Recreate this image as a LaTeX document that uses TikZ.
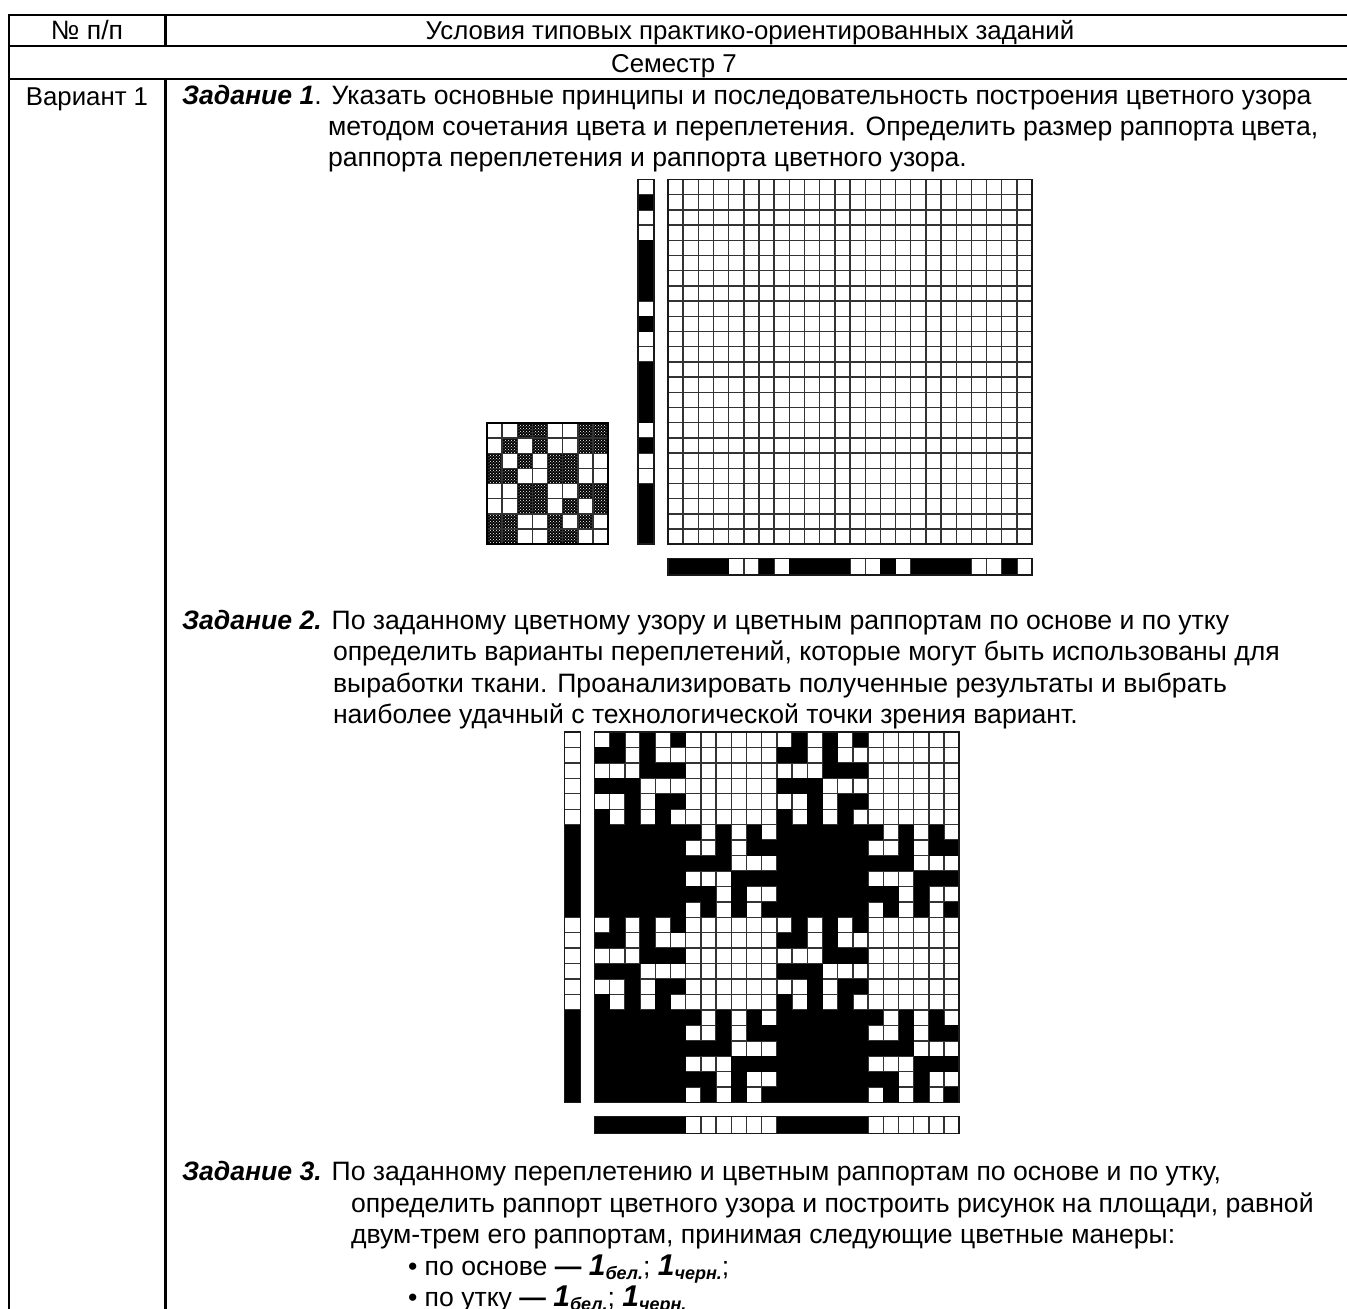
\documentclass[tikz,border=0pt]{standalone}
\usepackage{fontspec}
\setmainfont{Liberation Sans}
\usetikzlibrary{patterns}
\newcommand{\bodyfont}{\fontsize{26.6}{31}\selectfont}
\newcommand{\headfont}{\fontsize{25.8}{31}\selectfont}
\tikzset{
  x=1pt,y=-1pt,
  txt/.style={inner sep=0pt,outer sep=0pt,anchor=base west,font=\bodyfont},
  ctr/.style={inner sep=0pt,outer sep=0pt,anchor=base,font=\bodyfont},
  hctr/.style={inner sep=0pt,outer sep=0pt,anchor=base,font=\headfont},
  rule/.style={line width=2.2pt,black},
  gridline/.style={line width=1.4pt,black!80},
  frame/.style={line width=1.7pt,black!90},
}
\newcommand{\zadan}[1]{\textbf{\textit{#1}}}
\newcommand{\manner}[1]{{\fontsize{30}{30}\selectfont\zadan{1}}{\fontsize{18}{18}\selectfont\zadan{\raisebox{-4pt}{#1}}}}
\begin{document}
\begin{tikzpicture}
\useasboundingbox (0,0) rectangle (1347,1309);
\fill[white] (0,0) rectangle (1347,1309);
% table rules
\draw[rule] (9,1309) -- (9,15) -- (1347,15);
\draw[rule] (9,46) -- (1347,46);
\draw[rule] (9,79) -- (1347,79);
\draw[rule] (165.5,15) -- (165.5,46);
\draw[rule] (165.5,79) -- (165.5,1309);
% header text
\node[ctr] (hnum) at (87,39) {№ п/п};
\node[hctr] (htitle) at (750,39) {Условия типовых практико-ориентированных заданий};
\node[hctr] (hsem) at (674,72) {Семестр 7};
\node[hctr] (hvar) at (87,105) {Вариант 1};
% task 1
\node[txt] (t1a) at (182,104) {\zadan{Задание 1}. Указать основные принципы и последовательность построения цветного узора};
\node[txt] (t1b) at (328,135) {методом сочетания цвета и переплетения. Определить размер раппорта цвета,};
\node[txt] (t1c) at (328,166) {раппорта переплетения и раппорта цветного узора.};
% task 2
\node[txt] (t2a) at (182,629) {\zadan{Задание 2.} По заданному цветному узору и цветным раппортам по основе и по утку};
\node[txt] (t2b) at (333,660.5) {определить варианты переплетений, которые могут быть использованы для};
\node[txt] (t2c) at (333,692) {выработки ткани. Проанализировать полученные результаты и выбрать};
\node[txt] (t2d) at (333,723) {наиболее удачный с технологической точки зрения вариант.};
% task 3
\node[txt] (t3a) at (182,1180) {\zadan{Задание 3.} По заданному переплетению и цветным раппортам по основе и по утку,};
\node[txt] (t3b) at (351,1212) {определить раппорт цветного узора и построить рисунок на площади, равной};
\node[txt] (t3c) at (351,1243) {двум-трем его раппортам, принимая следующие цветные манеры:};
\node[txt] (t3d) at (408,1275) {• по основе \textbf{—} \manner{бел.}; \manner{черн.};};
\node[txt] (t3e) at (408,1306) {• по утку \textbf{—} \manner{бел.}; \manner{черн.}};

% ---- Figure 1
\def\cw{15.17}\def\ch{15.2}
\begin{scope}[shift={(668,179.5)}]
  \foreach \i in {0,...,24}{
    \draw[gridline] (\i*\cw,0) -- (\i*\cw,24*\ch);
    \draw[gridline] (0,\i*\ch) -- (24*\cw,\i*\ch);
  }
  \draw[frame] (0,0) rectangle (24*\cw,24*\ch);
  % bottom stripe
  \begin{scope}[shift={(0,379)}]
    \foreach \i in {0,...,24}{\draw[gridline] (\i*\cw,0) -- (\i*\cw,16.5);}
    \foreach \i in {0,1,2,3,6,8,9,10,11,14,16,17,18,19,22}{\fill[black] (\i*\cw,0) rectangle ++(\cw,16.5);}
    \draw[frame] (0,0) rectangle (24*\cw,16.5);
  \end{scope}
\end{scope}
% left stripe
\begin{scope}[shift={(638,179.5)}]
  \foreach \i in {0,...,24}{\draw[gridline] (0,\i*\ch) -- (16,\i*\ch);}
  \foreach \i in {1,4,5,6,7,9,12,13,14,15,17,20,21,22,23}{\fill[black] (0,\i*\ch) rectangle ++(16,\ch);}
  \draw[frame] (0,0) rectangle (16,24*\ch);
\end{scope}
% small hatched swatch
\begin{scope}[shift={(487,423)}]
  \def\cs{15.15}
  \foreach \r/\cols in {0/{2,3,6,7},1/{1,3,6,7},2/{0,2,4,5},3/{0,1,4,5},4/{2,3,6,7},5/{2,3,5,7},6/{0,1,4,6},7/{0,1,4,5}}{
    \foreach \c in \cols {
      \fill[black] (\c*\cs,\r*\cs) rectangle ++(\cs,\cs);
      \fill[pattern=crosshatch dots,pattern color=white] (\c*\cs,\r*\cs) rectangle ++(\cs,\cs);
    }
  }
  \foreach \i in {0,...,8}{
    \draw[gridline] (\i*\cs,0) -- (\i*\cs,8*\cs);
    \draw[gridline] (0,\i*\cs) -- (8*\cs,\i*\cs);
  }
  \draw[line width=2pt,black] (0,0) rectangle (8*\cs,8*\cs);
\end{scope}

% ---- Figure 2
\def\cx{15.2}\def\cy{15.44}
\begin{scope}[shift={(594.5,732)}]
  \foreach \i in {0,...,24}{
    \draw[gridline] (\i*\cx,0) -- (\i*\cx,24*\cy);
    \draw[gridline] (0,\i*\cy) -- (24*\cx,\i*\cy);
  }
  \foreach \ox in {0,12}{\foreach \oy in {0,12}{
    \foreach \r/\cols in {0/{1,3,5},1/{0,1,3},2/{3,4,5},3/{0,1,2},4/{2,4,5},5/{0,2,4}}{
      \foreach \c in \cols {
        \fill[black] ({(\ox+\c)*\cx},{(\oy+\r)*\cy}) rectangle ++(\cx,\cy);
        \fill[black] ({(\ox+6+\c)*\cx},{(\oy+11-\r)*\cy}) rectangle ++(\cx,\cy);
      }
    }
    \fill[black] ({\ox*\cx},{(\oy+6)*\cy}) rectangle ++(6*\cx,6*\cy);
  }}
  \draw[frame] (0,0) rectangle (24*\cx,24*\cy);
  % bottom stripe
  \begin{scope}[shift={(0,384.5)}]
    \foreach \i in {0,...,24}{\draw[gridline] (\i*\cx,0) -- (\i*\cx,17);}
    \fill[black] (0,0) rectangle (6*\cx,17);
    \fill[black] (12*\cx,0) rectangle (18*\cx,17);
    \draw[frame] (0,0) rectangle (24*\cx,17);
  \end{scope}
\end{scope}
% left stripe
\begin{scope}[shift={(564.5,732)}]
  \foreach \i in {0,...,24}{\draw[gridline] (0,\i*\cy) -- (16,\i*\cy);}
  \fill[black] (0,6*\cy) rectangle (16,12*\cy);
  \fill[black] (0,18*\cy) rectangle (16,24*\cy);
  \draw[frame] (0,0) rectangle (16,24*\cy);
\end{scope}
\end{tikzpicture}
\end{document}
